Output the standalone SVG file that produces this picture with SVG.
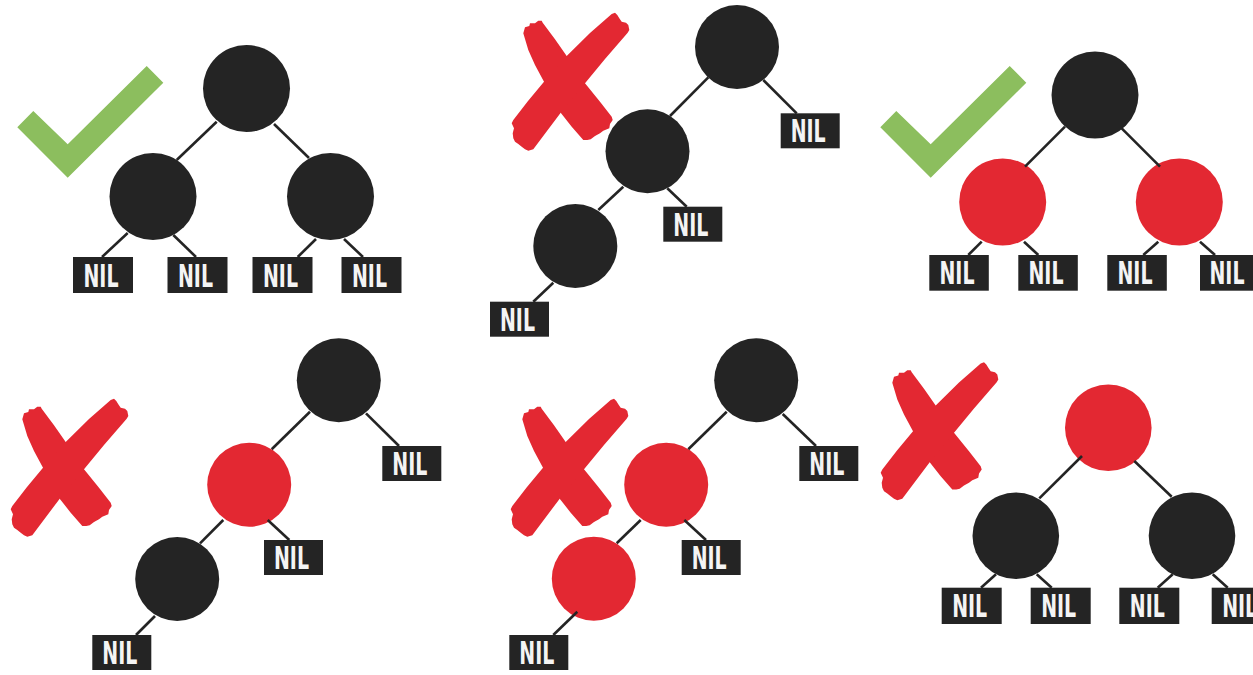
<svg xmlns="http://www.w3.org/2000/svg" xmlns:xlink="http://www.w3.org/1999/xlink" width="1253" height="675" viewBox="0 0 1253 675">
  <style>
    .b { fill: #242424; }
    .r { fill: #e32832; }
    .nil rect { fill: #242424; }
    .nil text { fill: #f4f4f4; font-family: "Liberation Sans Narrow", "DejaVu Sans Condensed", "Liberation Sans", sans-serif; font-weight: bold; font-size: 32px; text-anchor: middle; }
    .edges line { stroke: #242424; stroke-width: 2.6; stroke-linecap: butt; }
    .ok { fill: #8cbe5e; }
    .bad { fill: #e32832; }
  </style>
  <defs>
    <!-- check mark -->
    <polygon id="tick" class="ok" points="17.3,127.3 33.3,111 67.7,144.3 146.7,66 163.3,82.7 67.7,177.7"/>
    <!-- brush-stroke cross -->
    <g id="cross" class="bad">
      <polygon points="523.3,33.3 525,27.3 529.3,26 530,23.3 535,23.3 538.3,20.7 541.7,20.7 542.7,22.7 555,39.3 566.7,56 585,83.3 600,101.7 611.7,116.7 612.7,120 610,124 609.3,128.3 603.3,130.7 600,133.3 595,136 590.7,139.3 587.3,140 583.3,140 571.7,126.7 560.7,112.7 553.3,98.3 544,81.7 535,65 528.3,50"/>
      <polygon points="611.7,14 615,12.7 617.3,15 619.3,18.3 621.7,21.7 626,22.7 628.3,25 629.3,30 627.7,32.7 605,59 585,83.3 560.7,112.7 533.3,149.3 528.3,150.7 525,149.3 521.7,146.7 518.3,144 515,141.7 513.3,138.3 512.7,133.3 514,128.3 511.7,123.3 513.3,120 528,101 544,81.7 566.7,56 590,33"/>
    </g>
  </defs>

  <!-- validity marks -->
  <g id="marks">
    <use xlink:href="#tick"/>
    <use xlink:href="#tick" transform="translate(863,0)"/>
    <use xlink:href="#cross"/>
    <use xlink:href="#cross" transform="translate(-501,386)"/>
    <use xlink:href="#cross" transform="translate(-1,386)"/>
    <use xlink:href="#cross" transform="translate(369,349.5)"/>
  </g>

  <!-- tree 1 -->
  <g id="t1-root"><circle class="b" cx="246.5" cy="88.5" r="43.5"/></g>
  <g id="t1-left"><circle class="b" cx="153" cy="196.5" r="43.5"/></g>
  <g id="t1-right"><circle class="b" cx="330.5" cy="196.5" r="43.5"/></g>
  <g id="t1-nil1" class="nil"><rect x="73" y="257" width="60" height="36"/><text x="101" y="286.5" textLength="35" lengthAdjust="spacingAndGlyphs">NIL</text></g>
  <g id="t1-nil2" class="nil"><rect x="167.5" y="257" width="60" height="36"/><text x="195.5" y="286.5" textLength="35" lengthAdjust="spacingAndGlyphs">NIL</text></g>
  <g id="t1-nil3" class="nil"><rect x="252.5" y="257" width="60" height="36"/><text x="280.5" y="286.5" textLength="35" lengthAdjust="spacingAndGlyphs">NIL</text></g>
  <g id="t1-nil4" class="nil"><rect x="341.5" y="257" width="60" height="36"/><text x="369.5" y="286.5" textLength="35" lengthAdjust="spacingAndGlyphs">NIL</text></g>

  <!-- tree 2 -->
  <g id="t2-root"><circle class="b" cx="737" cy="47" r="42"/></g>
  <g id="t2-mid"><circle class="b" cx="647.5" cy="151.3" r="42"/></g>
  <g id="t2-low"><circle class="b" cx="575.3" cy="246" r="42"/></g>
  <g id="t2-nil1" class="nil"><rect x="780.7" y="113.3" width="59" height="35"/><text x="808.2" y="142.3" textLength="35" lengthAdjust="spacingAndGlyphs">NIL</text></g>
  <g id="t2-nil2" class="nil"><rect x="663.3" y="206.7" width="59" height="35"/><text x="690.8" y="235.7" textLength="35" lengthAdjust="spacingAndGlyphs">NIL</text></g>
  <g id="t2-nil3" class="nil"><rect x="490" y="301.7" width="59" height="35"/><text x="517.5" y="330.7" textLength="35" lengthAdjust="spacingAndGlyphs">NIL</text></g>

  <!-- tree 3 -->
  <g id="t3-root"><circle class="b" cx="1095" cy="95" r="43.5"/></g>
  <g id="t3-left"><circle class="r" cx="1002.7" cy="202" r="43.5"/></g>
  <g id="t3-right"><circle class="r" cx="1179.3" cy="202" r="43.5"/></g>
  <g id="t3-nil1" class="nil"><rect x="929.3" y="255" width="59.5" height="35.7"/><text x="957" y="284.3" textLength="35" lengthAdjust="spacingAndGlyphs">NIL</text></g>
  <g id="t3-nil2" class="nil"><rect x="1018.3" y="255" width="59.5" height="35.7"/><text x="1046" y="284.3" textLength="35" lengthAdjust="spacingAndGlyphs">NIL</text></g>
  <g id="t3-nil3" class="nil"><rect x="1107.3" y="255" width="59.5" height="35.7"/><text x="1135" y="284.3" textLength="35" lengthAdjust="spacingAndGlyphs">NIL</text></g>
  <g id="t3-nil4" class="nil"><rect x="1200" y="255" width="60" height="35.7"/><text x="1227" y="284.3" textLength="35" lengthAdjust="spacingAndGlyphs">NIL</text></g>

  <!-- tree 4 -->
  <g id="t4-root"><circle class="b" cx="338.8" cy="380.3" r="42"/></g>
  <g id="t4-mid"><circle class="r" cx="249.2" cy="484.7" r="42"/></g>
  <g id="t4-low"><circle class="b" cx="177.2" cy="579" r="42"/></g>
  <g id="t4-nil1" class="nil"><rect x="382.3" y="446" width="59" height="35"/><text x="409.8" y="475" textLength="35" lengthAdjust="spacingAndGlyphs">NIL</text></g>
  <g id="t4-nil2" class="nil"><rect x="264" y="540" width="59" height="35"/><text x="291.5" y="569" textLength="35" lengthAdjust="spacingAndGlyphs">NIL</text></g>
  <g id="t4-nil3" class="nil"><rect x="92.3" y="635" width="59" height="35"/><text x="119.8" y="664" textLength="35" lengthAdjust="spacingAndGlyphs">NIL</text></g>

  <!-- tree 5 -->
  <g id="t5-root"><circle class="b" cx="756.2" cy="380.3" r="42"/></g>
  <g id="t5-mid"><circle class="r" cx="666.2" cy="484.7" r="42"/></g>
  <g id="t5-low"><circle class="r" cx="593.8" cy="578.7" r="42"/></g>
  <g id="t5-nil1" class="nil"><rect x="799.3" y="446" width="59" height="35"/><text x="826.8" y="475" textLength="35" lengthAdjust="spacingAndGlyphs">NIL</text></g>
  <g id="t5-nil2" class="nil"><rect x="681.7" y="540" width="59" height="35"/><text x="709.2" y="569" textLength="35" lengthAdjust="spacingAndGlyphs">NIL</text></g>
  <g id="t5-nil3" class="nil"><rect x="509.3" y="635" width="59" height="35"/><text x="536.8" y="664" textLength="35" lengthAdjust="spacingAndGlyphs">NIL</text></g>

  <!-- tree 6 -->
  <g id="t6-root"><circle class="r" cx="1108.3" cy="427.7" r="43.3"/></g>
  <g id="t6-left"><circle class="b" cx="1015.8" cy="535.7" r="43.3"/></g>
  <g id="t6-right"><circle class="b" cx="1192" cy="535.7" r="43.3"/></g>
  <g id="t6-nil1" class="nil"><rect x="941.7" y="587.7" width="60" height="36.3"/><text x="969.7" y="617.2" textLength="35" lengthAdjust="spacingAndGlyphs">NIL</text></g>
  <g id="t6-nil2" class="nil"><rect x="1030.7" y="587.7" width="60" height="36.3"/><text x="1058.7" y="617.2" textLength="35" lengthAdjust="spacingAndGlyphs">NIL</text></g>
  <g id="t6-nil3" class="nil"><rect x="1119.3" y="587.7" width="60" height="36.3"/><text x="1147.3" y="617.2" textLength="35" lengthAdjust="spacingAndGlyphs">NIL</text></g>
  <g id="t6-nil4" class="nil"><rect x="1211.7" y="587.7" width="60" height="36.3"/><text x="1239.7" y="617.2" textLength="35" lengthAdjust="spacingAndGlyphs">NIL</text></g>

  <!-- parent/child links -->
  <g id="connectors" class="edges">
    <line x1="216.7" y1="121.7" x2="176.7" y2="160"/>
    <line x1="274" y1="124" x2="309" y2="158"/>
    <line x1="127.7" y1="233" x2="102" y2="257"/>
    <line x1="173.3" y1="235" x2="196" y2="257"/>
    <line x1="316" y1="239" x2="297.7" y2="257"/>
    <line x1="344" y1="239" x2="363" y2="257"/>

    <line x1="708.3" y1="77.3" x2="670" y2="116"/>
    <line x1="763.3" y1="80" x2="796.7" y2="113.3"/>
    <line x1="623.3" y1="186.7" x2="598.3" y2="210"/>
    <line x1="667.3" y1="188.3" x2="686.7" y2="206.7"/>
    <line x1="553.3" y1="282.7" x2="533.3" y2="301.7"/>

    <line x1="1065" y1="126.7" x2="1025" y2="166.7"/>
    <line x1="1121.7" y1="128.3" x2="1160" y2="166.7"/>
    <line x1="981.7" y1="241.7" x2="968.3" y2="255"/>
    <line x1="1024" y1="241.7" x2="1038.3" y2="255"/>
    <line x1="1158.3" y1="241.7" x2="1143.3" y2="255"/>
    <line x1="1200" y1="241.7" x2="1215" y2="255"/>

    <line x1="310" y1="411.7" x2="271.7" y2="449.3"/>
    <line x1="366" y1="413.3" x2="399" y2="446"/>
    <line x1="223.3" y1="520" x2="200" y2="543.3"/>
    <line x1="267.7" y1="520" x2="289.3" y2="540"/>
    <line x1="155" y1="616" x2="136" y2="635"/>

    <line x1="726.7" y1="411.7" x2="688.3" y2="449.3"/>
    <line x1="782.7" y1="414" x2="816" y2="446"/>
    <line x1="640.7" y1="520" x2="616.7" y2="543.3"/>
    <line x1="684.3" y1="520" x2="706" y2="540"/>
    <line x1="577.3" y1="611.7" x2="553.3" y2="635"/>

    <line x1="1082" y1="456" x2="1039.3" y2="498.3"/>
    <line x1="1134.3" y1="461" x2="1171.7" y2="496.7"/>
    <line x1="996" y1="574.3" x2="981" y2="587.7"/>
    <line x1="1036.7" y1="574.3" x2="1051.7" y2="587.7"/>
    <line x1="1172.7" y1="574.3" x2="1157.7" y2="587.7"/>
    <line x1="1212.7" y1="574.3" x2="1227.7" y2="587.7"/>
  </g>
</svg>
